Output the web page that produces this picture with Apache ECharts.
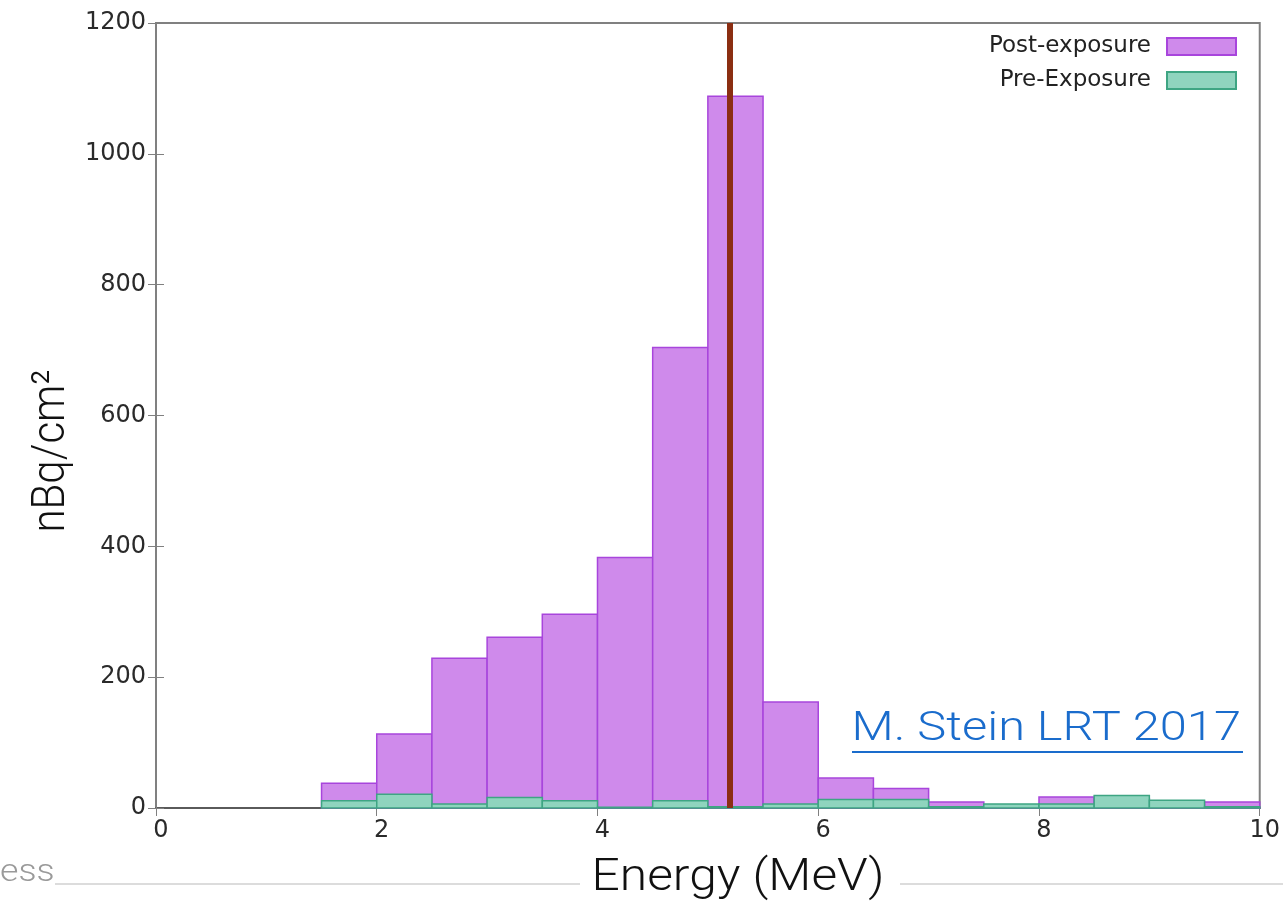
<!DOCTYPE html>
<html>
<head>
<meta charset="utf-8">
<script src="https://cdn.jsdelivr.net/npm/echarts@6/dist/echarts.min.js"></script>
<style>
    html, body { margin: 0; padding: 0; background: #fff; }
    #chart { width: 1283px; height: 902px; }
</style>
</head>
<body>
<div id="chart"></div>
<script>
// histogram bins, 0.5 MeV wide
var binStart = [1.5, 2, 2.5, 3, 3.5, 4, 4.5, 5, 5.5, 6, 6.5, 7, 7.5, 8, 8.5, 9, 9.5];
var binWidth = 0.5;
var postExposure = [38, 113, 229, 261, 296, 383, 704, 1088, 162, 46, 30, 9, 4, 17, 14, 10, 9];
var preExposure = [11, 21, 6, 16, 11, 1, 11, 2, 6, 13, 13, 2, 6, 6, 19, 12, 2];
var peakEnergy = 5.2;
var seriesNames = ['Post-exposure', 'Pre-Exposure'];

var tickFont = 'DejaVu Sans';
var lightFont = 'Roboto';

function toBins(values) {
    var out = [];
    for (var i = 0; i < binStart.length; i++) {
        out.push([binStart[i], binStart[i] + binWidth, values[i]]);
    }
    return out;
}

function renderBin(params, api) {
    var lo = api.coord([api.value(0), 0]);
    var hi = api.coord([api.value(1), api.value(2)]);
    return {
        type: 'rect',
        shape: { x: lo[0], y: hi[1], width: hi[0] - lo[0], height: lo[1] - hi[1] },
        style: api.style()
    };
}

var chart = echarts.init(document.getElementById('chart'));

var option = {
    animation: false,
    backgroundColor: '#fff',
    grid: {
        left: 156,
        right: 23,
        top: 23,
        bottom: 94,
        show: true,
        borderColor: '#808080',
        borderWidth: 2,
        backgroundColor: '#fff'
    },
    legend: {
        data: seriesNames,
        orient: 'vertical',
        right: 46,
        top: 35,
        padding: 0,
        align: 'right',
        itemWidth: 69,
        itemHeight: 17,
        itemGap: 11,
        icon: 'rect',
        textStyle: { fontFamily: tickFont, fontSize: 23, color: '#222', padding: [0, 11, 0, 0] }
    },
    xAxis: [{
        type: 'value',
        min: 0,
        max: 10,
        interval: 2,
        axisLine: { show: true, lineStyle: { color: '#5a5a5a', width: 2 } },
        axisTick: { show: true, inside: true, length: 8, lineStyle: { color: '#808080' } },
        axisLabel: {
            fontFamily: tickFont, fontSize: 24, color: '#2a2a2a', margin: 11,
            padding: [0, 0, 0, 10]
        },
        splitLine: { show: false }
    }, {
        type: 'value',
        position: 'top',
        min: 0,
        max: 10,
        interval: 2,
        axisLine: { show: false },
        axisTick: { show: true, inside: true, length: 8, lineStyle: { color: '#808080' } },
        axisLabel: { show: false },
        splitLine: { show: false }
    }],
    yAxis: [{
        type: 'value',
        min: 0,
        max: 1200,
        interval: 200,
        axisLine: { show: true, lineStyle: { color: '#808080', width: 2 } },
        axisTick: { show: true, inside: true, length: 8, lineStyle: { color: '#808080' } },
        axisLabel: {
            fontFamily: tickFont, fontSize: 24, color: '#2a2a2a', margin: 10,
            formatter: function (val) {
                return String(val);
            }
        },
        splitLine: { show: false }
    }, {
        type: 'value',
        position: 'right',
        min: 0,
        max: 1200,
        interval: 200,
        axisLine: { show: false },
        axisTick: { show: true, inside: true, length: 8, lineStyle: { color: '#808080' } },
        axisLabel: { show: false },
        splitLine: { show: false }
    }],
    series: [{
        name: seriesNames[0],
        type: 'custom',
        renderItem: renderBin,
        encode: { x: [0, 1], y: 2 },
        itemStyle: { color: '#cf8aeb', borderColor: '#a845dc', borderWidth: 1.5 },
        data: toBins(postExposure)
    }, {
        name: seriesNames[1],
        type: 'custom',
        renderItem: renderBin,
        encode: { x: [0, 1], y: 2 },
        itemStyle: { color: '#8fd4be', borderColor: '#3ea583', borderWidth: 1.5 },
        data: toBins(preExposure)
    }, {
        name: 'peak',
        type: 'line',
        data: [],
        markLine: {
            silent: true,
            symbol: 'none',
            label: { show: false },
            lineStyle: { color: '#8b2e12', width: 6, type: 'solid' },
            data: [{ xAxis: peakEnergy }]
        }
    }],
    graphic: [{
        type: 'text',
        x: 52,
        y: 451,
        rotation: Math.PI / 2,
        scaleY: 1.12,
        style: {
            text: 'nBq/cm²',
            fontFamily: lightFont,
            fontWeight: 300,
            fontSize: 42,
            fill: '#111',
            align: 'center',
            verticalAlign: 'middle'
        }
    }, {
        type: 'text',
        x: 738,
        y: 879,
        scaleX: 1.13,
        style: {
            text: 'Energy (MeV)',
            fontFamily: lightFont,
            fontWeight: 300,
            fontSize: 44,
            fill: '#111',
            align: 'center',
            verticalAlign: 'middle'
        }
    }, {
        type: 'text',
        x: 0,
        y: 873,
        scaleX: 1.15,
        style: {
            text: 'ess',
            fontFamily: lightFont,
            fontWeight: 300,
            fontSize: 31,
            fill: '#9a9a9a',
            align: 'left',
            verticalAlign: 'middle'
        }
    }, {
        type: 'line',
        shape: { x1: 55, y1: 884, x2: 580, y2: 884 },
        style: { stroke: '#dcdcdc', lineWidth: 2 }
    }, {
        type: 'line',
        shape: { x1: 900, y1: 884, x2: 1283, y2: 884 },
        style: { stroke: '#dcdcdc', lineWidth: 2 }
    }, {
        type: 'text',
        x: 1241,
        y: 730,
        scaleX: 1.22,
        style: {
            text: 'M. Stein LRT 2017',
            fontFamily: lightFont,
            fontWeight: 300,
            fontSize: 40,
            fill: '#1a6ccc',
            align: 'right',
            verticalAlign: 'middle'
        }
    }, {
        type: 'line',
        shape: { x1: 852, y1: 752, x2: 1243, y2: 752 },
        style: { stroke: '#1a6ccc', lineWidth: 2 }
    }]
};

chart.setOption(option);

window.onresize = function () {
    chart.resize();
};
</script>
</body>
</html>
